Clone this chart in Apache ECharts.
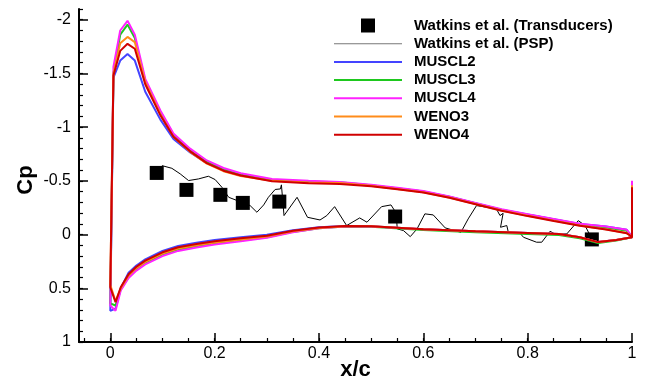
<!DOCTYPE html>
<html>
<head>
<meta charset="utf-8">
<script src="https://cdn.jsdelivr.net/npm/echarts@6.0.0/dist/echarts.min.js"></script>
<style>
  html, body { margin: 0; padding: 0; background: #fff; }
  #main { width: 648px; height: 379px; }
</style>
</head>
<body>
<div id="main"></div>
<script>
// Watkins et al. transducer points
const transX = [0.089, 0.146, 0.211, 0.254, 0.324, 0.546, 0.923];
const transCp = [-0.574, -0.416, -0.37, -0.295, -0.307, -0.168, 0.045];

// Watkins et al. PSP trace
const pspX = [0.099, 0.118, 0.134, 0.15, 0.169, 0.188, 0.201, 0.214, 0.227, 0.243, 0.268, 0.281, 0.294,
  0.303, 0.316, 0.326, 0.328, 0.333, 0.358, 0.378, 0.402, 0.415, 0.43, 0.453, 0.478, 0.492, 0.52, 0.538,
  0.548, 0.55, 0.562, 0.575, 0.588, 0.603, 0.619, 0.642, 0.672, 0.686, 0.702, 0.74, 0.747, 0.753, 0.748,
  0.76, 0.763, 0.785, 0.792, 0.817, 0.827, 0.843, 0.852, 0.875, 0.897, 0.91, 0.923];
const pspCp = [-0.642, -0.617, -0.565, -0.503, -0.518, -0.543, -0.512, -0.44, -0.347, -0.317, -0.27, -0.208, -0.276,
  -0.347, -0.42, -0.425, -0.463, -0.177, -0.347, -0.161, -0.136, -0.177, -0.26, -0.084, -0.155, -0.115, -0.26, -0.276,
  -0.2, -0.053, -0.037, 0.019, -0.053, -0.193, -0.183, -0.062, -0.021, -0.146, -0.27, -0.24, -0.177, -0.198, -0.068,
  -0.084, -0.021, -0.015, 0.025, 0.071, 0.071, -0.031, -0.006, -0.006, -0.13, -0.084, 0.04];

// CFD suction side (leading edge -> trailing edge)
const upperX = [0.006, 0.019, 0.033, 0.047, 0.067, 0.096, 0.121, 0.153, 0.185, 0.217, 0.25, 0.31, 0.38,
  0.44, 0.5, 0.55, 0.6, 0.65, 0.7, 0.75, 0.8, 0.85, 0.9, 0.95, 0.99, 1.0];
const muscl2Upper = [-1.46, -1.62, -1.68, -1.62, -1.33, -1.07, -0.89, -0.765, -0.665, -0.60, -0.553, -0.505, -0.485,
  -0.48, -0.458, -0.432, -0.402, -0.352, -0.292, -0.232, -0.187, -0.143, -0.099, -0.075, -0.045, 0.02];
const muscl3Upper = [-1.50, -1.86, -1.955, -1.83, -1.43, -1.14, -0.93, -0.79, -0.68, -0.61, -0.562, -0.51, -0.495,
  -0.488, -0.46, -0.43, -0.40, -0.35, -0.29, -0.23, -0.185, -0.14, -0.095, -0.065, -0.035, 0.02];
const muscl4Upper = [-1.56, -1.90, -1.99, -1.86, -1.45, -1.155, -0.94, -0.80, -0.69, -0.62, -0.571, -0.518, -0.50,
  -0.49, -0.465, -0.435, -0.405, -0.355, -0.295, -0.235, -0.19, -0.145, -0.10, -0.075, -0.045, 0.02];
const weno3Upper = [-1.50, -1.78, -1.84, -1.79, -1.42, -1.12, -0.91, -0.77, -0.66, -0.59, -0.545, -0.50, -0.485,
  -0.48, -0.455, -0.425, -0.395, -0.345, -0.285, -0.225, -0.175, -0.13, -0.085, -0.05, -0.015, 0.02];
const weno4Upper = [-1.48, -1.71, -1.776, -1.73, -1.40, -1.11, -0.91, -0.775, -0.665, -0.595, -0.55, -0.497, -0.478,
  -0.472, -0.45, -0.422, -0.392, -0.342, -0.282, -0.222, -0.172, -0.127, -0.083, -0.048, -0.012, 0.02];

// CFD pressure side (leading edge -> trailing edge)
const lowerX = [0.0, 0.01, 0.02, 0.035, 0.05, 0.067, 0.1, 0.13, 0.165, 0.2, 0.25, 0.3, 0.35, 0.4, 0.45, 0.5,
  0.6, 0.7, 0.8, 0.86, 0.9, 0.935, 0.97, 1.0];
const muscl2Lower = [0.71, 0.69, 0.50, 0.355, 0.288, 0.23, 0.153, 0.106, 0.075, 0.05, 0.025, 0.002, -0.04, -0.068,
  -0.08, -0.077, -0.05, -0.03, -0.015, -0.005, 0.025, 0.07, 0.05, 0.025];
const muscl3Lower = [0.64, 0.66, 0.51, 0.395, 0.325, 0.267, 0.19, 0.142, 0.11, 0.084, 0.055, 0.025, -0.025, -0.058,
  -0.075, -0.072, -0.043, -0.022, -0.005, 0.005, 0.035, 0.078, 0.055, 0.025];
const muscl4Lower = [0.66, 0.71, 0.52, 0.405, 0.335, 0.277, 0.2, 0.152, 0.12, 0.093, 0.062, 0.03, -0.022, -0.058,
  -0.076, -0.076, -0.05, -0.03, -0.015, -0.005, 0.025, 0.07, 0.05, 0.025];
const weno3Lower = [0.47, 0.62, 0.50, 0.38, 0.312, 0.254, 0.177, 0.13, 0.099, 0.073, 0.045, 0.018, -0.03, -0.062,
  -0.078, -0.077, -0.05, -0.03, -0.015, -0.005, 0.025, 0.07, 0.05, 0.025];
const weno4Lower = [0.49, 0.63, 0.49, 0.37, 0.30, 0.242, 0.165, 0.118, 0.087, 0.062, 0.035, 0.01, -0.035, -0.065,
  -0.08, -0.077, -0.05, -0.03, -0.015, -0.005, 0.025, 0.07, 0.05, 0.025];

// trailing edge spike value per scheme
const teSpike = [-0.47, -0.49, -0.50, -0.46, -0.44];

const schemeNames = ["MUSCL2", "MUSCL3", "MUSCL4", "WENO3", "WENO4"];
const schemeColors = ["#4444ff", "#1ec81e", "#ff22ff", "#ff8c1a", "#d00000"];
const schemeUpper = [muscl2Upper, muscl3Upper, muscl4Upper, weno3Upper, weno4Upper];
const schemeLower = [muscl2Lower, muscl3Lower, muscl4Lower, weno3Lower, weno4Lower];

const xTicks = [0, 0.2, 0.4, 0.6, 0.8, 1];
const yTicks = [-2, -1.5, -1, -0.5, 0, 0.5, 1];

const FONT = "'Liberation Sans', Arial, Helvetica, sans-serif";
const LINE_ICON = "path://M0,0L68,0L68,2L0,2Z";
const THIN_ICON = "path://M0,0L68,0L68,1L0,1Z";

// minor ticks: every 0.05 in x, every 0.1 in Cp
const xMinor = [];
for (let i = -1; i <= 19; i++) xMinor.push(+(i * 0.05).toFixed(2));
const yMinor = [];
for (let i = -21; i <= 10; i++) yMinor.push(+(i * 0.1).toFixed(1));

function loop(upper, lower, spike) {
  const pts = [[1.0, spike]];
  for (let i = lowerX.length - 1; i >= 0; i--) pts.push([lowerX[i], lower[i]]);
  for (let i = 0; i < upperX.length; i++) pts.push([upperX[i], upper[i]]);
  return pts;
}

const chart = echarts.init(document.getElementById("main"));

const series = [
  {
    name: "Watkins et al. (Transducers)",
    type: "scatter",
    symbol: "rect",
    symbolSize: 14,
    itemStyle: { color: "#000", opacity: 1 },
    data: transX.map((x, i) => [x, transCp[i]]),
  },
  {
    name: "Watkins et al. (PSP)",
    type: "line",
    symbol: "none",
    showSymbol: false,
    clip: false,
    lineStyle: { color: "#000", width: 1 },
    itemStyle: { color: "#000" },
    data: pspX.map((x, i) => [x, pspCp[i]]),
  },
];
schemeNames.forEach((name, k) => {
  series.push({
    name: name,
    type: "line",
    symbol: "none",
    showSymbol: false,
    clip: false,
    lineStyle: { color: schemeColors[k], width: 2 },
    itemStyle: { color: schemeColors[k] },
    data: loop(schemeUpper[k], schemeLower[k], teSpike[k]),
  });
});

chart.setOption({
  animation: false,
  backgroundColor: "#fff",
  textStyle: { fontFamily: FONT },
  grid: { left: 79, right: 16, top: 9, bottom: 37, outerBoundsMode: "none", containLabel: false },
  legend: {
    left: 334,
    top: 18,
    padding: 0,
    orient: "vertical",
    itemWidth: 68,
    itemHeight: 14,
    itemGap: 3.2,
    textStyle: {
      fontFamily: FONT,
      fontSize: 15,
      fontWeight: "bold",
      color: "#000",
      lineHeight: 14,
      padding: [0, 0, 0, 7],
    },
    data: [
      { name: "Watkins et al. (Transducers)", icon: "path://M0,0L10,0L10,10L0,10Z" },
      { name: "Watkins et al. (PSP)", icon: THIN_ICON, itemStyle: { color: "#777" } },
      { name: "MUSCL2", icon: LINE_ICON },
      { name: "MUSCL3", icon: LINE_ICON },
      { name: "MUSCL4", icon: LINE_ICON },
      { name: "WENO3", icon: LINE_ICON },
      { name: "WENO4", icon: LINE_ICON },
    ],
  },
  xAxis: [
    {
      type: "value",
      min: -0.06,
      max: 1,
      name: "x/c",
      nameLocation: "middle",
      nameGap: 17,
      nameMoveOverlap: false,
      nameTextStyle: { fontFamily: FONT, fontSize: 22, fontWeight: "bold", color: "#000", verticalAlign: "top" },
      splitLine: { show: false },
      axisLine: { onZero: false, lineStyle: { color: "#000", width: 2 } },
      axisTick: { inside: true, length: 9, customValues: xTicks, lineStyle: { color: "#000", width: 1.5 } },
      axisLabel: { customValues: xTicks, margin: 4, fontFamily: FONT, fontSize: 16, color: "#000" },
    },
    {
      type: "value",
      min: -0.06,
      max: 1,
      position: "bottom",
      splitLine: { show: false },
      axisLine: { show: false, onZero: false },
      axisLabel: { show: false },
      axisTick: { inside: true, length: 4, customValues: xMinor, lineStyle: { color: "#000", width: 1.2 } },
    },
  ],
  yAxis: [
    {
      type: "value",
      inverse: true,
      min: -2.1,
      max: 1,
      name: "Cp",
      nameLocation: "middle",
      nameGap: 42,
      nameRotate: 90,
      nameMoveOverlap: false,
      nameTextStyle: {
        fontFamily: FONT, fontSize: 22, fontWeight: "bold", color: "#000",
        padding: [0, 9, 0, 0],
      },
      splitLine: { show: false },
      axisLine: { onZero: false, lineStyle: { color: "#000", width: 2 } },
      axisTick: { inside: true, length: 9, customValues: yTicks, lineStyle: { color: "#000", width: 1.5 } },
      axisLabel: { customValues: yTicks, margin: 8, fontFamily: FONT, fontSize: 16, color: "#000" },
    },
    {
      type: "value",
      inverse: true,
      min: -2.1,
      max: 1,
      position: "left",
      splitLine: { show: false },
      axisLine: { show: false, onZero: false },
      axisLabel: { show: false },
      axisTick: { inside: true, length: 4, customValues: yMinor, lineStyle: { color: "#000", width: 1.2 } },
    },
  ],
  series: series,
});
</script>
</body>
</html>
